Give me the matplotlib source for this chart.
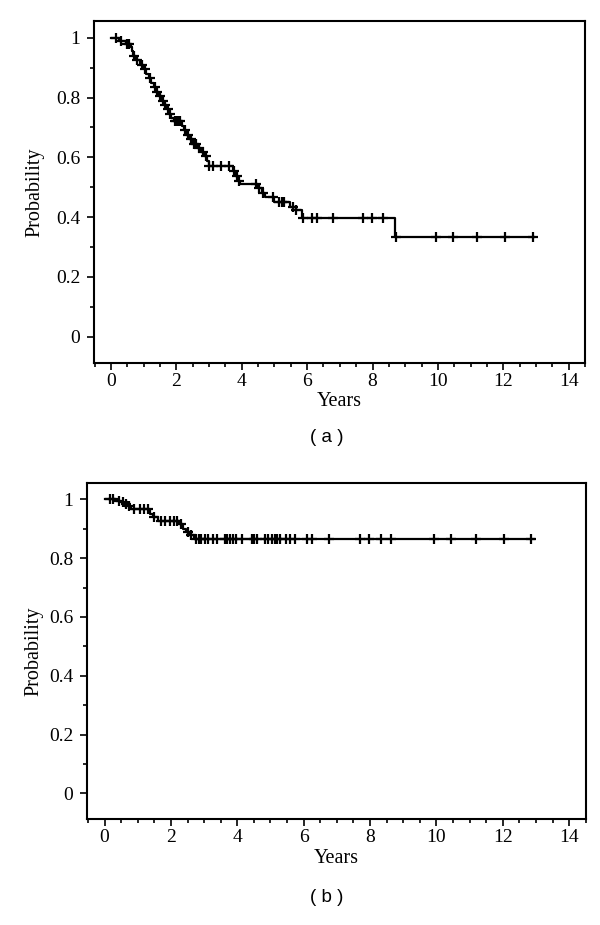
import numpy as np
import matplotlib
matplotlib.use("Agg")
import matplotlib.pyplot as plt
from matplotlib.ticker import MultipleLocator

# panel (a): event times and survival after each event
ev_a = [0.25, 0.45, 0.6, 0.63, 0.68, 0.75, 0.88, 1.0, 1.08, 1.15, 1.22, 1.3,
        1.38, 1.46, 1.55, 1.62, 1.7, 1.78, 1.85, 1.92, 2.17, 2.24, 2.3, 2.4,
        2.5, 2.62, 2.75, 2.85, 2.94, 2.99, 3.72, 3.8, 3.88, 3.95, 4.5, 4.62,
        4.7, 5.0, 5.48, 5.65, 5.85, 8.69]
surv_a = [0.99, 0.98, 0.97, 0.955, 0.94, 0.925, 0.91, 0.895, 0.88, 0.865,
          0.85, 0.835, 0.82, 0.805, 0.79, 0.775, 0.76, 0.745, 0.73, 0.72,
          0.705, 0.69, 0.675, 0.66, 0.645, 0.632, 0.618, 0.604, 0.588, 0.572,
          0.555, 0.538, 0.522, 0.51, 0.497, 0.482, 0.466, 0.45, 0.435, 0.424,
          0.396, 0.332]
cens_a = [0.15, 0.3, 0.5, 0.55, 0.7, 0.8, 0.95, 1.05, 1.2, 1.35, 1.4, 1.5,
          1.6, 1.65, 1.75, 1.8, 1.95, 2.0, 2.05, 2.1, 2.25, 2.35, 2.45, 2.55,
          2.6, 2.7, 2.8, 2.9, 3.0, 3.13, 3.36, 3.62, 3.76, 3.84, 3.92, 4.45,
          4.54, 4.66, 4.96, 5.15, 5.23, 5.28, 5.57, 5.67, 5.86, 6.15, 6.31,
          6.79, 7.72, 7.97, 8.33, 8.72, 9.94, 10.45, 11.2, 12.06, 12.9]
end_a = 12.95

# panel (b)
ev_b = [0.35, 0.5, 0.6, 0.7, 0.8, 1.38, 1.45, 1.6, 2.25, 2.35, 2.45, 2.55, 2.7]
surv_b = [0.996, 0.99, 0.984, 0.977, 0.966, 0.952, 0.94, 0.928, 0.915, 0.9,
          0.89, 0.879, 0.864]
cens_b = [0.15, 0.25, 0.45, 0.55, 0.65, 0.75, 0.9, 1.06, 1.2, 1.31, 1.5, 1.7,
          1.81, 1.97, 2.1, 2.17, 2.3, 2.5, 2.6, 2.77, 2.85, 2.92, 3.02, 3.12,
          3.27, 3.38, 3.63, 3.68, 3.78, 3.88, 3.96, 4.13, 4.44, 4.49, 4.59,
          4.84, 4.94, 5.04, 5.14, 5.19, 5.29, 5.47, 5.59, 5.75, 6.1, 6.25,
          6.75, 7.71, 7.96, 8.32, 8.62, 9.93, 10.43, 11.19, 12.04, 12.85]
end_b = 12.94

xticks = [0, 2, 4, 6, 8, 10, 12, 14]
yticks = [0, 0.2, 0.4, 0.6, 0.8, 1]
ytick_labels = ["0", "0.2", "0.4", "0.6", "0.8", "1"]

serif = "Liberation Serif"

fig = plt.figure(figsize=(6, 9.25), dpi=100)
ax_a = fig.add_axes([0.1567, 0.6076, 0.8183, 0.37])
ax_b = fig.add_axes([0.1455, 0.1144, 0.8307, 0.3638])


def km_plot(ax, ev, surv, cens, end, ypad):
    t = np.array([0.0] + ev + [end])
    s = np.array([1.0] + surv + [surv[-1]])
    ax.step(t, s, where="post", color="black", lw=1.6)
    c = np.array(cens)
    idx = np.searchsorted(t, c, side="right") - 1
    ax.plot(c, s[idx], "+", color="black", ms=7, mew=1.6)

    ax.set_xlim(-0.52, 14.5)
    ax.set_ylim(-0.088, 1.057)
    ax.set_xticks(xticks)
    ax.set_xticklabels([str(v) for v in xticks], family=serif, fontsize=14)
    ax.set_yticks(yticks)
    ax.set_yticklabels(ytick_labels, family=serif, fontsize=14)
    ax.xaxis.set_minor_locator(MultipleLocator(0.5))
    ax.yaxis.set_minor_locator(MultipleLocator(0.1))
    ax.tick_params(which="major", direction="out", length=5, width=1.2,
                   top=False, right=False)
    ax.tick_params(axis="x", which="major", pad=2)
    ax.tick_params(axis="y", which="major", pad=5)
    ax.tick_params(which="minor", direction="out", length=3, width=1.2,
                   top=False, right=False)
    for sp in ax.spines.values():
        sp.set_linewidth(1.5)
    ax.set_xlabel("Years", family=serif, fontsize=14.5, labelpad=2)
    ax.set_ylabel("Probability", family=serif, fontsize=14.5, labelpad=ypad)


km_plot(ax_a, ev_a, surv_a, cens_a, end_a, 8)
km_plot(ax_b, ev_b, surv_b, cens_b, end_b, 4)

fig.text(0.545, 1 - 437 / 925, "( a )", ha="center", va="center",
         family="Liberation Sans", fontsize=13.5)
fig.text(0.545, 1 - 897 / 925, "( b )", ha="center", va="center",
         family="Liberation Sans", fontsize=13.5)

fig.savefig("out.png", dpi=100)
